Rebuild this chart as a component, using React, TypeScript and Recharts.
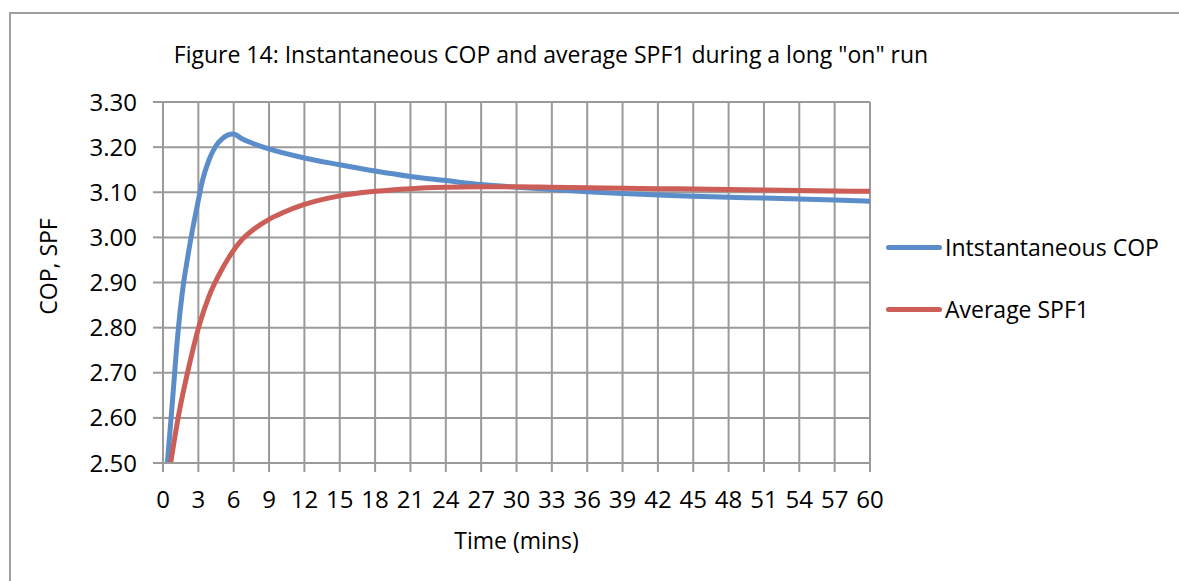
import { LineChart, Line, XAxis, YAxis, CartesianGrid, Legend } from 'recharts'

const copTimes = [0.37, 0.79, 1.22, 1.64, 2.07, 2.49, 2.92, 3.34, 3.91, 4.47, 5.04, 5.94, 6.74, 9, 12, 15, 18, 21, 24, 27, 30, 33, 36, 39, 42, 45, 48, 51, 54, 57, 60]
const copValues = [2.5, 2.633, 2.774, 2.878, 2.952, 3.015, 3.072, 3.125, 3.172, 3.202, 3.219, 3.229, 3.218, 3.196, 3.176, 3.161, 3.147, 3.135, 3.126, 3.117, 3.111, 3.106, 3.101, 3.097, 3.094, 3.091, 3.089, 3.087, 3.085, 3.083, 3.08]

const spfTimes = [0.65, 1.36, 2.21, 3.06, 3.91, 4.75, 5.6, 6.74, 7.7, 9, 10.2, 12, 15, 18, 21, 24, 27, 30, 33, 36, 39, 42, 45, 48, 51, 54, 57, 60]
const spfValues = [2.5, 2.611, 2.715, 2.804, 2.87, 2.917, 2.956, 2.996, 3.018, 3.04, 3.055, 3.073, 3.092, 3.102, 3.108, 3.111, 3.112, 3.112, 3.111, 3.11, 3.109, 3.108, 3.107, 3.106, 3.105, 3.104, 3.103, 3.102]

const xTicks = [0, 3, 6, 9, 12, 15, 18, 21, 24, 27, 30, 33, 36, 39, 42, 45, 48, 51, 54, 57, 60]
const yTicks = [2.5, 2.6, 2.7, 2.8, 2.9, 3.0, 3.1, 3.2, 3.3]

const seriesNames = ['Intstantaneous COP', 'Average SPF1']
const seriesColors = ['#5A8DC9', '#CC5D57']

const title = 'Figure 14: Instantaneous COP and average SPF1 during a long "on" run'

const copData = copTimes.map((t, i) => ({ t, v: copValues[i] }))
const spfData = spfTimes.map((t, i) => ({ t, v: spfValues[i] }))

const FONT = '"Open Sans", sans-serif'
const GRID = '#9a9a9a'

function LegendBox({ payload }: any) {
  const items = [...(payload || [])].sort(
    (a: any, b: any) => seriesNames.indexOf(a.value) - seriesNames.indexOf(b.value)
  )
  return (
    <div style={{ fontFamily: FONT, fontSize: 23, color: '#000' }}>
      {items.map((p: any) => (
        <div key={p.value} style={{ display: 'flex', alignItems: 'center', height: 62 }}>
          <div style={{ width: 56, height: 5, borderRadius: 3, background: p.color, marginRight: 3 }} />
          <span>{p.value}</span>
        </div>
      ))}
    </div>
  )
}

function YLabel({ viewBox }: any) {
  const cx = 48
  const cy = viewBox.y + viewBox.height / 2 - 16
  return (
    <text x={cx} y={cy} transform={`rotate(-90 ${cx} ${cy})`} textAnchor="middle" dominantBaseline="central"
      fontFamily={FONT} fontSize={23} fill="#000">
      COP, SPF
    </text>
  )
}

function XLabel({ viewBox }: any) {
  return (
    <text x={viewBox.x + viewBox.width / 2} y={549} textAnchor="middle" fontFamily={FONT} fontSize={23} fill="#000">
      Time (mins)
    </text>
  )
}

export default function App() {
  return (
    <div style={{ position: 'relative', width: 1179, height: 581, background: '#fff', overflow: 'hidden' }}>
      <style>{'body{margin:0}'}</style>
      <div style={{ position: 'absolute', left: 9, top: 12, width: 1200, height: 600, borderLeft: '2px solid #a0a0a0', borderTop: '2px solid #a0a0a0' }} />
      <div style={{ position: 'absolute', left: 151, top: 39, width: 800, textAlign: 'center', fontFamily: FONT, fontSize: 23, lineHeight: '30px', color: '#000' }}>
        {title}
      </div>
      <div style={{ position: 'absolute', left: 0, top: 0 }}>
        <LineChart width={1179} height={581} margin={{ top: 102, right: 309, bottom: 58, left: 0 }}>
          <CartesianGrid stroke={GRID} strokeWidth={2} />
          <XAxis dataKey="t" type="number" domain={[0, 60]} ticks={xTicks} allowDataOverflow
            height={60} interval={0} tickSize={9} tickMargin={19}
            stroke={GRID} strokeWidth={2}
            tick={{ fill: '#000', fontFamily: FONT, fontSize: 24 }}
            label={<XLabel />} />
          <YAxis type="number" domain={[2.5, 3.3]} ticks={yTicks} allowDataOverflow
            width={163} interval={0} tickSize={10} tickMargin={16}
            stroke={GRID} strokeWidth={2}
            tickFormatter={(v: number) => v.toFixed(2)}
            tick={{ fill: '#000', fontFamily: FONT, fontSize: 24 }}
            label={<YLabel />} />
          <Legend layout="vertical" align="center" verticalAlign="middle"
            wrapperStyle={{ left: 886, top: 216, width: 293 }}
            content={<LegendBox />} />
          <Line data={copData} dataKey="v" name={seriesNames[0]} type="monotone" stroke={seriesColors[0]}
            strokeWidth={5} dot={false} isAnimationActive={false} />
          <Line data={spfData} dataKey="v" name={seriesNames[1]} type="monotone" stroke={seriesColors[1]}
            strokeWidth={5} dot={false} isAnimationActive={false} />
        </LineChart>
      </div>
    </div>
  )
}
